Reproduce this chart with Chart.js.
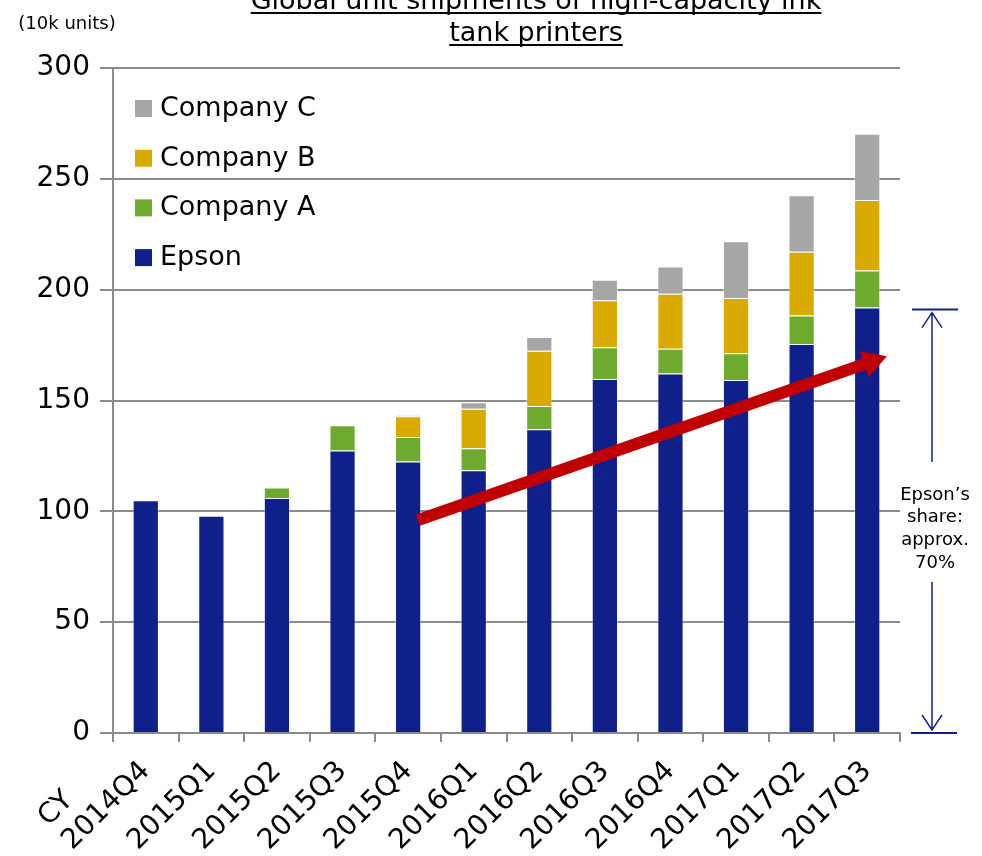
<!DOCTYPE html>
<html>
<head>
<meta charset="utf-8">
<script src="https://cdn.jsdelivr.net/npm/chart.js@4"></script>
<style>
  html, body { margin: 0; padding: 0; background: #fff; }
  #wrap { width: 982px; height: 856px; position: relative; }
</style>
</head>
<body>
<div id="wrap"><canvas id="chart" width="982" height="856"></canvas></div>
<script>
const quarters = [
  '2014Q4', '2015Q1', '2015Q2', '2015Q3', '2015Q4', '2016Q1',
  '2016Q2', '2016Q3', '2016Q4', '2017Q1', '2017Q2', '2017Q3'
];
const yearPrefix = 'CY';
const epson    = [105, 98, 106, 127.5, 122.5, 118.5, 137, 159.7, 162.2, 159.3, 175.5, 192];
const companyA = [null, null, 4.8, 11.3, 11, 10, 10.5, 14.3, 11.2, 12, 12.9, 16.6];
const companyB = [null, null, null, null, 9.4, 17.8, 24.9, 21.2, 24.8, 24.9, 28.7, 31.9];
const companyC = [null, null, null, null, 0.5, 2.9, 6.3, 9.3, 12.3, 25.6, 25.5, 29.8];
const yTicks = [0, 50, 100, 150, 200, 250, 300];

const titleLines = ['Global unit shipments of high-capacity ink', 'tank printers'];
const unitLabel = '(10k units)';
const shareLines = ['Epson\u2019s', 'share:', 'approx.', '70%'];
// trend arrow, in data units (category index, value)
const trendFrom = [4.15, 96];
const trendTo = [11.3, 170];
const shareTop = 191;

const FONT = '"DejaVu Sans", Verdana, sans-serif';
const NAVY = '#10208a';
const TICK_SIZE = 28;

function underlineText(ctx, text, x, y) {
  ctx.fillText(text, x, y);
  const w = ctx.measureText(text).width;
  ctx.fillRect(x - w / 2, y + 3, w, 2);
}

const decorations = {
  id: 'decorations',
  afterDraw(chart) {
    const { ctx, chartArea, scales } = chart;
    const x = scales.x, y = scales.y;
    ctx.save();

    // title (cut off at the top, as in the source)
    ctx.fillStyle = '#000';
    ctx.font = '27px ' + FONT;
    ctx.textAlign = 'center';
    ctx.textBaseline = 'alphabetic';
    underlineText(ctx, titleLines[0], 536, 9);
    underlineText(ctx, titleLines[1], 536, 41);

    ctx.font = '18px ' + FONT;
    ctx.fillText(unitLabel, 67, 29);

    // "CY" line above the first category label
    const item = x.getLabelItems()[0];
    if (item) {
      const [tx, ty] = item.options.translation;
      ctx.save();
      ctx.translate(tx, ty);
      ctx.rotate(item.options.rotation);
      ctx.font = item.font.string;
      const w = ctx.measureText(item.label).width;
      ctx.textAlign = 'left';
      ctx.textBaseline = 'middle';
      ctx.fillText(yearPrefix, -w, item.textOffset - item.font.lineHeight);
      ctx.restore();
    }

    // legend inside plot
    const items = chart.data.datasets.slice().reverse();
    ctx.textAlign = 'left';
    ctx.textBaseline = 'middle';
    ctx.font = '27px ' + FONT;
    items.forEach((ds, i) => {
      const cy = chartArea.top + 40 + i * 49.7;
      ctx.fillStyle = ds.backgroundColor;
      ctx.fillRect(chartArea.left + 22, cy - 8, 17, 17);
      ctx.fillStyle = '#000';
      ctx.fillText(ds.label, chartArea.left + 47, cy + 1);
    });

    // red trend arrow
    const x0 = x.getPixelForValue(trendFrom[0]), y0 = y.getPixelForValue(trendFrom[1]);
    const x1 = x.getPixelForValue(trendTo[0]), y1 = y.getPixelForValue(trendTo[1]);
    const ang = Math.atan2(y1 - y0, x1 - x0);
    const len = Math.hypot(x1 - x0, y1 - y0);
    ctx.save();
    ctx.translate(x0, y0);
    ctx.rotate(ang);
    ctx.fillStyle = '#c00000';
    const head = 24, half = 6, headHalf = 14;
    ctx.beginPath();
    ctx.moveTo(0, -half);
    ctx.lineTo(len - head, -half);
    ctx.lineTo(len - head, -headHalf);
    ctx.lineTo(len, 0);
    ctx.lineTo(len - head, headHalf);
    ctx.lineTo(len - head, half);
    ctx.lineTo(0, half);
    ctx.closePath();
    ctx.fill();
    ctx.restore();

    // share annotation on the right
    const ax = chartArea.right + 32;
    const top = y.getPixelForValue(shareTop);
    const bot = y.getPixelForValue(0);
    ctx.strokeStyle = NAVY;
    ctx.lineWidth = 2;
    ctx.beginPath();
    ctx.moveTo(ax - 20, top); ctx.lineTo(ax + 26, top);
    ctx.moveTo(ax - 21, bot); ctx.lineTo(ax + 25, bot);
    ctx.stroke();
    ctx.lineWidth = 1.5;
    ctx.beginPath();
    ctx.moveTo(ax, top + 3); ctx.lineTo(ax, 462);
    ctx.moveTo(ax, 582); ctx.lineTo(ax, bot - 3);
    ctx.moveTo(ax - 10, top + 18); ctx.lineTo(ax, top + 3); ctx.lineTo(ax + 10, top + 18);
    ctx.moveTo(ax - 10, bot - 18); ctx.lineTo(ax, bot - 3); ctx.lineTo(ax + 10, bot - 18);
    ctx.stroke();

    ctx.fillStyle = '#000';
    ctx.font = '18px ' + FONT;
    ctx.textAlign = 'center';
    ctx.textBaseline = 'middle';
    shareLines.forEach((t, i) => ctx.fillText(t, ax + 3, 495 + i * 22.7));

    ctx.restore();
  }
};

const barStyle = { borderWidth: 1, borderColor: 'rgba(255,255,255,0.45)', barPercentage: 0.4, categoryPercentage: 1 };

new Chart(document.getElementById('chart'), {
  type: 'bar',
  data: {
    labels: quarters,
    datasets: [
      { label: 'Epson', data: epson, backgroundColor: '#10208a', ...barStyle },
      { label: 'Company A', data: companyA, backgroundColor: '#6eaa2e', ...barStyle },
      { label: 'Company B', data: companyB, backgroundColor: '#d9aa00', ...barStyle },
      { label: 'Company C', data: companyC, backgroundColor: '#a6a6a6', ...barStyle }
    ]
  },
  options: {
    responsive: false,
    animation: false,
    layout: { padding: { top: 68, right: 82, left: 0, bottom: 0 } },
    plugins: { legend: { display: false }, tooltip: { enabled: false } },
    scales: {
      x: {
        stacked: true,
        afterFit: (s) => { s.height = 123; },
        border: { color: '#8a8a8a', width: 2 },
        grid: { drawOnChartArea: false, drawTicks: true, tickLength: 9, color: '#8a8a8a', lineWidth: 2 },
        ticks: {
          color: '#000', font: { family: FONT, size: TICK_SIZE },
          maxRotation: 45, minRotation: 45, padding: 13, labelOffset: 0,
          autoSkip: false
        }
      },
      y: {
        stacked: true,
        min: 0, max: 300,
        afterFit: (s) => { s.width = 113; },
        afterBuildTicks: (s) => { s.ticks = yTicks.map(v => ({ value: v })); },
        border: { color: '#8a8a8a', width: 2 },
        grid: { color: '#8a8a8a', lineWidth: 2, tickLength: 13 },
        ticks: { color: '#000', font: { family: FONT, size: TICK_SIZE }, padding: 10 }
      }
    }
  },
  plugins: [decorations]
});
</script>
</body>
</html>
